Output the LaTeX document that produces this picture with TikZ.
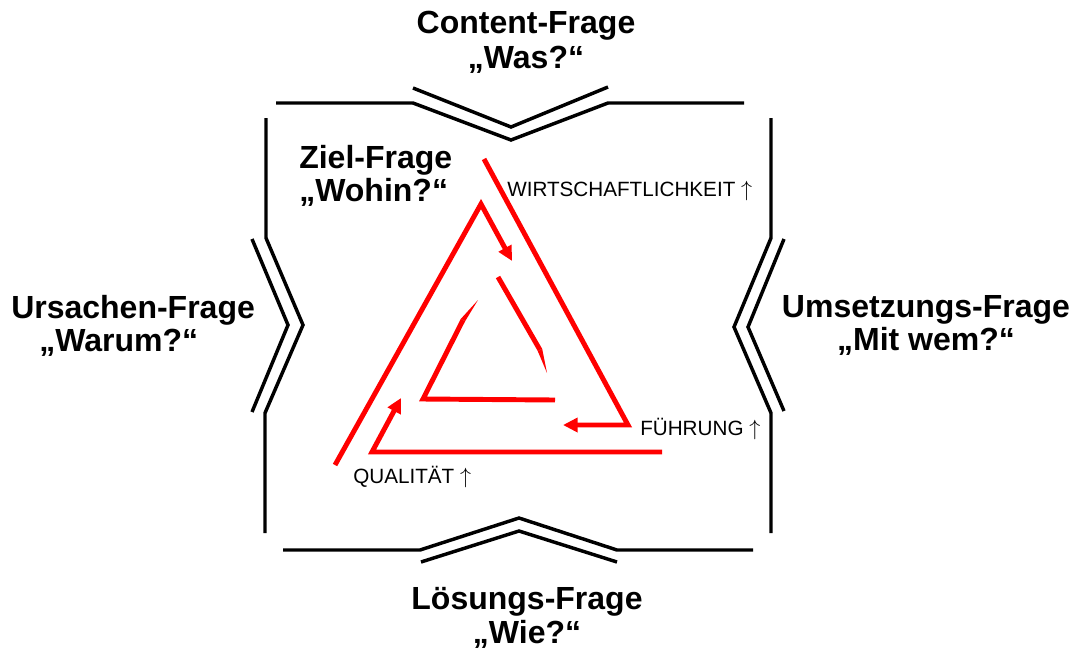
\documentclass[tikz,border=0pt]{standalone}
\usepackage{fontspec}
\setmainfont{Liberation Sans}
\usetikzlibrary{arrows.meta}
\definecolor{spiralred}{RGB}{255,0,0}
\newcommand{\hoch}{\ \scalebox{1.15}{$\uparrow$}}

\begin{document}
\begin{tikzpicture}[x=0.75pt,y=-0.75pt,
    frameline/.style={line width=2.6pt,line join=miter},
    spiral/.style={draw=spiralred,line width=3.7pt,line join=miter},
    spiraltip/.style={-{Triangle[length=11pt,width=10.5pt]}},
    frage/.style={font=\fontsize{24}{24.75}\selectfont\bfseries,inner sep=0pt},
    kriterium/.style={font=\fontsize{15.5}{18}\selectfont,anchor=base west,inner sep=0pt}]
  \useasboundingbox (0,0) rectangle (1074,651);

  % Frame: four sides, each with a double chevron pointing inwards.
  \draw[frameline] (276,103) -- (413,103) -- (511,140) -- (608,103) -- (744,103);
  \draw[frameline] (413,88) -- (511,127) -- (608,87);
  \draw[frameline] (266,118) -- (266,238) -- (303,325) -- (265,413) -- (265,533);
  \draw[frameline] (252,239) -- (288,325) -- (252,412);
  \draw[frameline] (771,118) -- (771,238) -- (734,327) -- (771,413) -- (771,533);
  \draw[frameline] (784,239) -- (748,327) -- (784,411);
  \draw[frameline] (283,550) -- (420,550) -- (519,518) -- (617,550) -- (753,550);
  \draw[frameline] (421,562) -- (519,531) -- (617,562);

  % The four questions round the frame, the target question inside.
  \node[frage,anchor=north,align=center] (content) at (526,11)
    {Content-Frage\\[1.5pt]„Was?“};
  \node[frage,anchor=north west,align=left] (ziel) at (299,145)
    {Ziel-Frage\\„Wohin?“};
  \node[frage,anchor=north west,align=left] (ursachen) at (11,295)
    {Ursachen-Frage\\\hspace*{21pt}„Warum?“};
  \node[frage,anchor=north,align=center] (umsetzung) at (926,295)
    {Umsetzungs-Frage\\„Mit wem?“};
  \node[frage,anchor=north,align=center] (loesung) at (527,587)
    {Lösungs-Frage\\[1pt]„Wie?“};

  % Red spiral of three turns, running inwards.
  \draw[spiral,spiraltip] (335,465) -- (481,204) -- (512,261);
  \draw[spiral,spiraltip] (484,159) -- (628,425) -- (563,425);
  \draw[spiral,spiraltip] (662,452) -- (372,452) -- (401,398);
  \draw[spiral] (498,277) -- (540,350);
  \fill[spiralred] (542.2,348.8) -- (547,373) -- (537.8,351.2) -- cycle;
  \fill[spiralred] (478,300) -- (465.2,321.1) -- (460.8,318.9) -- cycle;
  \draw[spiral] (463,320) -- (423,399) -- (555,400);

  % Criteria at the corners of the spiral.
  \node[kriterium] (wirtschaft) at (507,196) {WIRTSCHAFTLICHKEIT\hoch};
  \node[kriterium] (fuehrung) at (640,435) {FÜHRUNG\hoch};
  \node[kriterium] (qualitaet) at (353,483) {QUALITÄT\hoch};
\end{tikzpicture}
\end{document}
